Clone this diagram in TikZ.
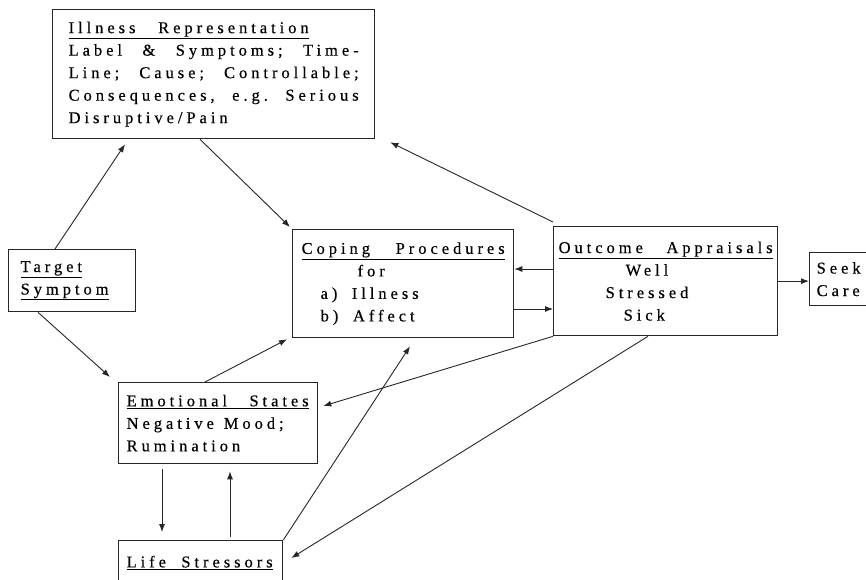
\documentclass[tikz,border=0pt]{standalone}
\usepackage{fontspec}
\setmainfont{Liberation Serif}[LetterSpace=24,FakeBold=0.4]
\usetikzlibrary{arrows.meta}
\newcommand\ttl[2]{\underline{\makebox[#1][s]{#2}}}
\newcommand\jst[2]{\makebox[#1][s]{#2}}
\begin{document}
\begin{tikzpicture}[x=1pt,y=-1pt,
  box/.style={draw=black!85,line width=1.3pt,anchor=north west,align=left,
    inner ysep=0pt,font=\fontsize{16.5}{22.5}\selectfont},
  arr/.style={-{Latex[length=8pt,width=6pt]},line width=0.9pt,draw=black!85},
  ]
\useasboundingbox (0,0) rectangle (866,579);
\clip (0,0) rectangle (866,579);
\node[box,text width=290pt,inner xsep=16pt,minimum height=129pt] (illness) at (52,9)
  {\ttl{240pt}{Illness\hfill Representation}\\
   \jst{290pt}{Label\hfill\&\hfill Symptoms;\hfill Time-}\\
   \jst{290pt}{Line;\hfill Cause;\hfill Controllable;}\\
   \jst{290pt}{Consequences,\hfill e.g.\hfill Serious}\\
   Disruptive/Pain};
\node[box,text width=203pt,inner xsep=9pt,minimum height=108pt] (coping) at (292,229)
  {\ttl{203pt}{Coping\hfill Procedures}\\
   \hspace*{56pt}for\\
   \hspace*{19pt}\jst{98pt}{a)\hfill Illness}\\
   \hspace*{19pt}\jst{94pt}{b)\hfill Affect}};
\node[box,text width=214pt,inner xsep=5pt,minimum height=109pt] (outcome) at (553,226)
  {\ttl{214pt}{Outcome\hfill Appraisals}\\
   \hspace*{67pt}Well\\
   \hspace*{47pt}Stressed\\
   \hspace*{65pt}Sick};
\node[box,text width=60pt,inner xsep=7pt,minimum height=53pt] (seek) at (809,252)
  {Seek\\Care};
\node[box,text width=103pt,inner xsep=12pt,minimum height=62pt] (target) at (8,249)
  {\underline{Target}\\\underline{Symptom}};
\node[box,text width=183pt,inner xsep=8pt,minimum height=81pt] (emotion) at (118,382)
  {\ttl{182pt}{Emotional\hfill States}\\
   \jst{157pt}{Negative\hfill Mood;}\\
   Rumination};
\node[box,text width=148pt,inner xsep=8pt,minimum height=44pt] (stress) at (118,540)
  {\ttl{146pt}{Life\hfill Stressors}};

\draw[arr] ([xshift=47pt]target.north west) -- ([xshift=73pt,yshift=-5pt]illness.south west);
\draw[arr] ([xshift=148pt]illness.south west) -- ([xshift=-2pt,yshift=2pt]coping.north west);
\draw[arr] ([yshift=4pt]outcome.north west) -- ([xshift=15pt,yshift=-3pt]illness.south east);
\draw[arr] ([yshift=-43pt]outcome.north west) -- ([yshift=-40pt]coping.north east);
\draw[arr] ([yshift=-80pt]coping.north east) -- ([yshift=-83pt]outcome.north west);
\draw[arr] (outcome.east) -- (outcome.east -| seek.west);
\draw[arr] ([xshift=30pt]target.south west) -- ([xshift=-8pt,yshift=5pt]emotion.north west);
\draw[arr] ([xshift=87pt]emotion.north west) -- ([xshift=-5pt,yshift=-1pt]coping.south west);
\draw[arr] (outcome.south west) -- ([xshift=5pt,yshift=-24pt]emotion.north east);
\draw[arr] ([xshift=95pt]outcome.south west) -- ([xshift=8pt,yshift=-18pt]stress.north east);
\draw[arr] (stress.north east) -- ([xshift=118pt,yshift=-8pt]coping.south west);
\draw[arr] ([xshift=44pt,yshift=-5pt]emotion.south west) -- ([xshift=44pt,yshift=8pt]stress.north west);
\draw[arr] ([xshift=112pt,yshift=3pt]stress.north west) -- ([xshift=112pt,yshift=-7pt]emotion.south west);
\end{tikzpicture}
\end{document}
